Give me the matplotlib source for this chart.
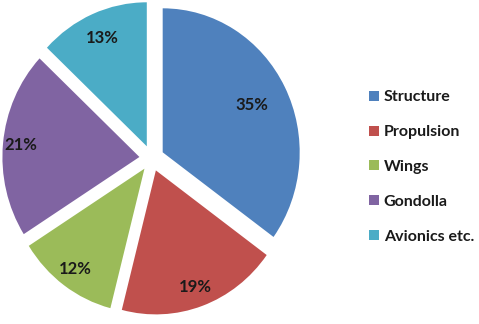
import numpy as np
import matplotlib.pyplot as plt

# dados do grafico
categorias = ['Structure', 'Propulsion', 'Wings', 'Gondolla', 'Avionics etc.']
percentuais = [35, 19, 12, 21, 13]
cores = ['#4F81BD', '#C0504D', '#9BBB59', '#8064A2', '#4BACC6']

plt.rcParams['font.family'] = ['Lato', 'DejaVu Sans']

fig = plt.figure(figsize=(4.79, 3.24), dpi=100)
ax = fig.add_axes([1.0 / 479, 7.4 / 324, 301.4 / 479, 316.8 / 324])

wedges, textos, autotextos = ax.pie(
    percentuais, colors=cores, startangle=90, counterclock=False,
    explode=[0.09] * len(percentuais), autopct='%1.0f%%', pctdistance=0.85,
    textprops=dict(fontsize=12, fontweight='bold', color='#1a1a1a'),
    wedgeprops=dict(linewidth=0))

# 35% fica mais perto do centro
dist_rotulos = [0.73, 0.86, 0.86, 0.87, 0.82]
for w, t, d in zip(wedges, autotextos, dist_rotulos):
    ang = np.deg2rad((w.theta1 + w.theta2) / 2)
    cx, cy = w.center
    t.set_position((cx + d * np.cos(ang), cy + d * np.sin(ang)))

ax.set_xlim(-1.1, 1.1)
ax.set_ylim(-1.1, 1.1)
ax.set_aspect('auto')
ax.axis('off')

leg = fig.legend(wedges, categorias, loc='center left',
                 bbox_to_anchor=(355 / 479, 1 - 167 / 324), frameon=False,
                 handlelength=0.6, handleheight=0.6, handletextpad=0.3,
                 labelspacing=1.3, prop=dict(size=11.5, weight='bold'))
for t in leg.get_texts():
    t.set_color('#1a1a1a')

fig.savefig('out.png', dpi=100)
